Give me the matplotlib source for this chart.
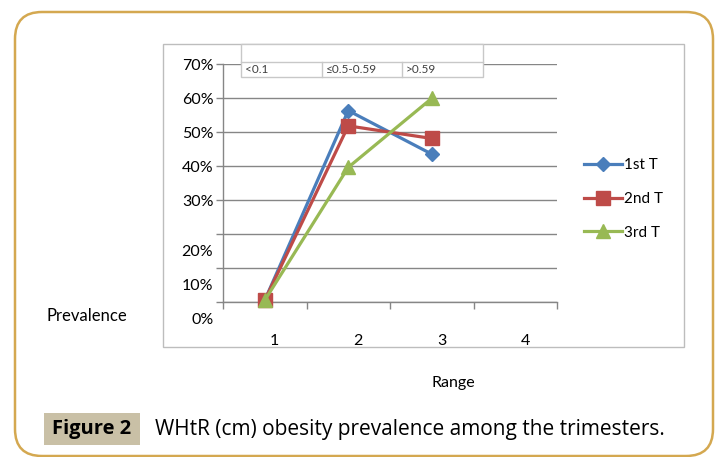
import matplotlib
matplotlib.use("Agg")
import matplotlib.pyplot as plt
from matplotlib.patches import FancyBboxPatch, Rectangle
from matplotlib.transforms import ScaledTranslation
from matplotlib.ticker import FixedLocator

# ---- data ----
categories = [1, 2, 3]
cat_labels = ["1", "2", "3", "4"]
series_names = ["1st T", "2nd T", "3rd T"]
first_t = [0.005, 0.563, 0.435]
second_t = [0.005, 0.518, 0.481]
third_t = [0.005, 0.396, 0.599]
y_ticks = [0.0, 0.1, 0.2, 0.3, 0.4, 0.5, 0.6, 0.7]
y_tick_labels = ["0%", "10%", "20%", "30%", "40%", "50%", "60%", "70%"]
range_labels = ["<0.1", "\u22640.5-0.59", ">0.59"]
caption_tag = "Figure 2"
caption_text = "WHtR (cm) obesity prevalence among the trimesters."

colors = ["#4a7ebb", "#be4b48", "#98b954"]
markers = ["D", "s", "^"]
msizes = [7.5, 10, 10]

plt.rcParams["font.family"] = ["Lato", "DejaVu Sans"]

W, H = 718, 457
fig = plt.figure(figsize=(W / 100, H / 100), dpi=100)


def fx(px):
    return px / W


def fy(py):
    return 1 - py / H


# outer rounded frame
frame = FancyBboxPatch((0.15, 0.01), 6.98, 4.44,
                       boxstyle="round,pad=0,rounding_size=0.27",
                       transform=fig.dpi_scale_trans, fill=False,
                       edgecolor="#d4a850", linewidth=1.8, zorder=0)
fig.patches.append(frame)

# chart area border
fig.patches.append(Rectangle((fx(163), fy(347)), fx(684) - fx(163), fy(44) - fy(347),
                             transform=fig.transFigure, fill=False,
                             edgecolor="#bdbdbd", linewidth=1.0, zorder=0))

ax = fig.add_axes([fx(223), fy(302), fx(557) - fx(223), fy(64) - fy(302)])
ax.set_facecolor("none")
ax.set_xlim(0.5, 4.5)
ax.set_ylim(0, 0.7)

ax.set_yticks(y_ticks)
ax.set_yticklabels(y_tick_labels, fontsize=11.5)
ax.tick_params(axis="y", length=5, width=1, color="#868686", pad=2)
for lab in ax.get_yticklabels()[:3]:
    lab.set_transform(lab.get_transform() + ScaledTranslation(0, -0.16, fig.dpi_scale_trans))
ax.yaxis.grid(True, color="#868686", linewidth=1)
ax.set_axisbelow(True)

ax.set_xticks([1, 2, 3, 4])
ax.set_xticklabels(cat_labels, fontsize=11.5)
ax.tick_params(axis="x", which="major", length=0, pad=23)
ax.xaxis.set_minor_locator(FixedLocator([0.5, 1.5, 2.5, 3.5, 4.5]))
ax.tick_params(axis="x", which="minor", length=5, width=1, color="#868686")
for lab in ax.get_xticklabels():
    lab.set_transform(lab.get_transform() + ScaledTranslation(0.10, 0, fig.dpi_scale_trans))

for side in ["top", "right"]:
    ax.spines[side].set_visible(False)
for side in ["left", "bottom"]:
    ax.spines[side].set_color("#868686")
    ax.spines[side].set_linewidth(1)

handles = []
for vals, name, c, m, ms in zip([first_t, second_t, third_t], series_names, colors, markers, msizes):
    h, = ax.plot(categories, vals, color=c, linewidth=2.3, marker=m, markersize=ms,
                 markeredgecolor=c, label=name, clip_on=False, zorder=3)
    handles.append(h)

fig.legend(handles=handles, labels=series_names, loc="upper left",
           bbox_to_anchor=(fx(578), fy(152)), frameon=False, fontsize=11,
           handlelength=2.5, handletextpad=0.1, labelspacing=1.3, borderaxespad=0)

# range table overlay
tbl_top, row_mid, tbl_bot = 44, 62, 77
cols = [241, 322, 402, 483]
fig.patches.append(Rectangle((fx(241), fy(tbl_bot)), fx(483) - fx(241), fy(tbl_top) - fy(tbl_bot),
                             transform=fig.transFigure, facecolor="white",
                             edgecolor="#c8c8c8", linewidth=1, zorder=5))
fig.add_artist(plt.Line2D([fx(241), fx(483)], [fy(row_mid), fy(row_mid)],
                          transform=fig.transFigure, color="#c8c8c8", linewidth=1, zorder=6))
for xx in cols[1:3]:
    fig.add_artist(plt.Line2D([fx(xx), fx(xx)], [fy(row_mid), fy(tbl_bot)],
                              transform=fig.transFigure, color="#c8c8c8", linewidth=1, zorder=6))
for xx, t in zip(cols[:3], range_labels):
    fig.text(fx(xx + 4), fy(69.5), t, fontsize=8.5, color="#404040",
             ha="left", va="center", zorder=7)

fig.text(fx(87), fy(316), "Prevalence", fontsize=12, ha="center", va="center")
fig.text(fx(453), fy(383), "Range", fontsize=11.5, ha="center", va="center")

# caption
fig.patches.append(Rectangle((fx(44), fy(445)), fx(140) - fx(44), fy(413) - fy(445),
                             transform=fig.transFigure, facecolor="#c9c0a6",
                             edgecolor="none", zorder=1))
fig.text(fx(92), fy(429), caption_tag, fontsize=14.5, fontweight="bold",
         ha="center", va="center", family=["Open Sans", "DejaVu Sans"])
fig.text(fx(155), fy(429), caption_text, fontsize=15, ha="left", va="center",
         family=["Open Sans", "DejaVu Sans"])

fig.savefig("out.png", dpi=100)
